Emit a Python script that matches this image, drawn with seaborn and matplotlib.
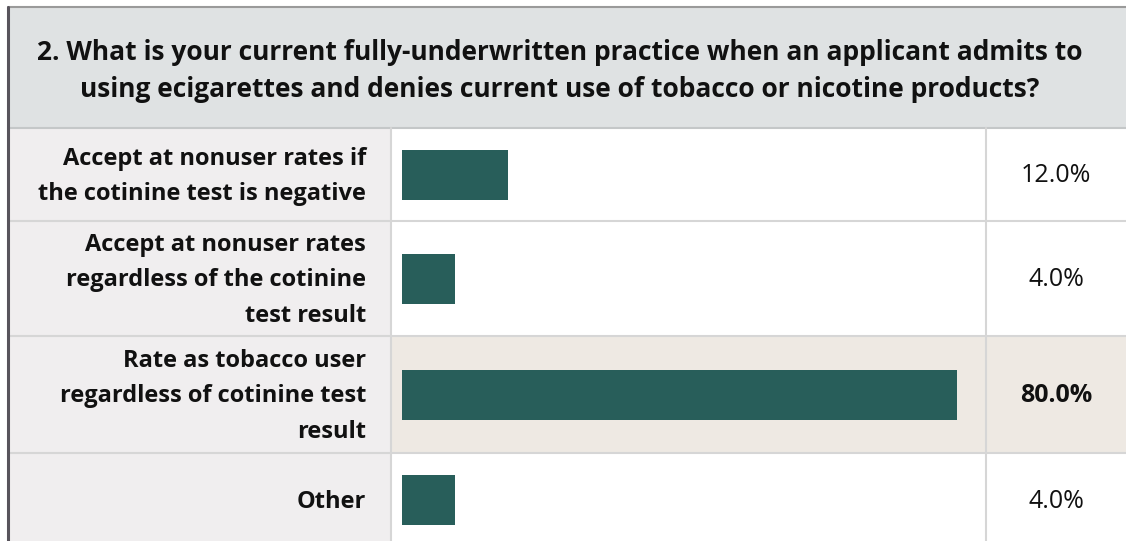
import matplotlib
matplotlib.use('Agg')
import matplotlib.pyplot as plt
from matplotlib.patches import Rectangle
from matplotlib.lines import Line2D
import seaborn as sns
import pandas as pd

# data
title = ("2. What is your current fully-underwritten practice when an applicant admits to\n"
         "using ecigarettes and denies current use of tobacco or nicotine products?")
answers = ["Accept at nonuser rates if\nthe cotinine test is negative",
           "Accept at nonuser rates\nregardless of the cotinine\ntest result",
           "Rate as tobacco user\nregardless of cotinine test\nresult",
           "Other"]
pct = [12.0, 4.0, 80.0, 4.0]
value_labels = ["12.0%", "4.0%", "80.0%", "4.0%"]

df = pd.DataFrame({"answer": answers, "pct": pct})
# bars in the source table get a small minimum length
BAR_BASE = 4.0
df["bar"] = df["pct"] + BAR_BASE
top_idx = df["pct"].idxmax()

sns.set_theme(style="white")
plt.rcParams['font.family'] = ['Open Sans', 'DejaVu Sans']

W, H = 1126, 541
fig = plt.figure(figsize=(W / 100, H / 100), dpi=100)
fig.patch.set_facecolor("white")


def fx(px):
    return px / W


def fy(py):
    return 1 - py / H


def rect(x0, y0, x1, y1, color):
    fig.add_artist(Rectangle((fx(x0), fy(y1)), fx(x1) - fx(x0), fy(y0) - fy(y1),
                             transform=fig.transFigure, facecolor=color,
                             edgecolor="none", zorder=0))


def hline(y, x0, x1, color, lw):
    fig.add_artist(Line2D([fx(x0), fx(x1)], [fy(y), fy(y)], transform=fig.transFigure,
                          color=color, linewidth=lw, zorder=3))


def vline(x, y0, y1, color, lw):
    fig.add_artist(Line2D([fx(x), fx(x)], [fy(y0), fy(y1)], transform=fig.transFigure,
                          color=color, linewidth=lw, zorder=3))


# layout (pixels)
LEFT, COL1, COL2, RIGHT = 8, 391, 986, W
HEAD_TOP, HEAD_BOT = 7, 128
row_h = [93, 115, 117, 94]
row_top = [HEAD_BOT]
for h in row_h[:-1]:
    row_top.append(row_top[-1] + h)
BAR_PX = 50
grid_c = "#d6d6d6"
bar_c = "#285e5a"

# header
rect(LEFT, HEAD_TOP, RIGHT, HEAD_BOT, "#dfe2e3")
fig.text(fx(560), fy(71), title, ha="center", va="center", fontsize=19,
         fontweight="bold", color="#111111", linespacing=1.49)

xmax = df["bar"].max()
px_per = 555 / xmax
x_left = -(402 - COL1) / px_per
x_right = x_left + (COL2 - COL1) / px_per

for i, row in df.iterrows():
    t, h = row_top[i], row_h[i]
    b = t + h
    hi = i == top_idx
    rect(LEFT, t, COL1, b, "#f0eeef")
    rect(COL1, t, RIGHT, b, "#eee9e3" if hi else "white")

    ax = fig.add_axes([fx(COL1), fy(b), fx(COL2) - fx(COL1), fy(t) - fy(b)])
    sns.barplot(data=df.iloc[[i]], x="bar", y="answer", orient="h", color=bar_c,
                saturation=1, width=BAR_PX / h, linewidth=0, ax=ax)
    ax.set_xlim(x_left, x_right)
    ax.set_ylim(0.5, -0.5)
    ax.set_axis_off()
    ax.patch.set_visible(False)

    cy = t + h / 2
    fig.text(fx(366), fy(cy + 2), row["answer"], ha="right", va="center",
             fontsize=17, fontweight="bold", color="#111111", linespacing=1.65)
    fig.text(fx(1056), fy(cy + 1), value_labels[i], ha="center", va="center",
             fontsize=18, fontweight="bold" if hi else "normal", color="#111111")

    hline(b, LEFT, RIGHT, grid_c, 1.5)

# grid and borders
hline(HEAD_BOT, LEFT, RIGHT, "#c4c7c8", 1.5)
vline(COL1, HEAD_BOT, H, grid_c, 1.5)
vline(COL2, HEAD_BOT, H, grid_c, 1.5)
hline(HEAD_TOP, LEFT, RIGHT, "#9a9a9a", 1.5)
vline(LEFT, HEAD_TOP, H, "#58545c", 2.2)

fig.savefig("out.png", dpi=100)
